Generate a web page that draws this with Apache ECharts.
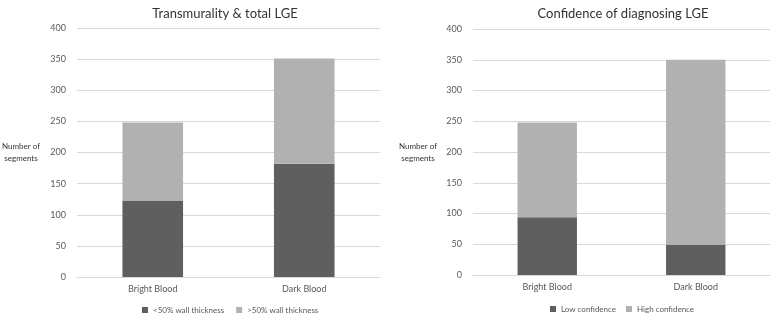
<!DOCTYPE html>
<html>
<head>
<meta charset="utf-8">
<script src="https://cdn.jsdelivr.net/npm/echarts@6/dist/echarts.min.js"></script>
<style>
  html, body { margin: 0; padding: 0; background: #fff; }
  #chart { width: 778px; height: 313px; }
</style>
</head>
<body>
<div id="chart"></div>
<script>
// categories and tick values
var categories = ['Bright Blood', 'Dark Blood'];
var yTicks = [0, 50, 100, 150, 200, 250, 300, 350, 400];

// left panel: transmurality
var lessThan50 = [122, 182];
var moreThan50 = [126, 169];

// right panel: confidence
var lowConfidence = [94, 49];
var highConfidence = [154, 301];

var darkGrey = '#5f5f5f';
var lightGrey = '#b1b1b1';
var textColor = '#595959';
var fontFam = 'Lato, "Open Sans", sans-serif';

var myChart = echarts.init(document.getElementById('chart'));

function makeX(idx) {
    return {
        type: 'category',
        gridIndex: idx,
        data: categories,
        axisTick: { show: false },
        axisLine: { lineStyle: { color: '#d9d9d9' } },
        axisLabel: { color: textColor, fontSize: 9, fontFamily: fontFam, margin: 8 }
    };
}
function makeY(idx, gap) {
    return {
        type: 'value',
        gridIndex: idx,
        min: yTicks[0],
        max: yTicks[yTicks.length - 1],
        interval: 50,
        name: 'Number of\nsegments',
        nameLocation: 'middle',
        nameRotate: 0,
        nameGap: gap,
        nameTextStyle: { color: '#333', fontSize: 8, fontFamily: fontFam, lineHeight: 12, align: 'center' },
        axisLine: { show: false },
        axisTick: { show: false },
        axisLabel: { color: textColor, fontSize: 9, fontFamily: fontFam, margin: 11 },
        splitLine: { lineStyle: { color: '#d9d9d9' } }
    };
}

var option = {
    animation: false,
    textStyle: { fontFamily: fontFam },
    title: [
        { text: 'Transmurality & total LGE', left: 220, top: 2, textAlign: 'center',
          textStyle: { fontSize: 13, fontWeight: 'normal', color: '#333', fontFamily: fontFam } },
        { text: 'Confidence of diagnosing LGE', left: 618, top: 2, textAlign: 'center',
          textStyle: { fontSize: 13, fontWeight: 'normal', color: '#333', fontFamily: fontFam } }
    ],
    legend: [
        { data: ['<50% wall thickness', '>50% wall thickness'], left: 137, top: 301,
          icon: 'rect', itemWidth: 6, itemHeight: 6, itemGap: 12,
          textStyle: { fontSize: 8, color: textColor, fontFamily: fontFam } },
        { data: ['Low confidence', 'High confidence'], left: 545, top: 300,
          icon: 'rect', itemWidth: 6, itemHeight: 6, itemGap: 10,
          textStyle: { fontSize: 8, color: textColor, fontFamily: fontFam } }
    ],
    grid: [
        { left: 76, right: 398, top: 28, bottom: 36 },
        { left: 473, right: 8, top: 29, bottom: 38 }
    ],
    xAxis: [makeX(0), makeX(1)],
    yAxis: [makeY(0, 56), makeY(1, 55)],
    series: [
        { name: '<50% wall thickness', type: 'bar', stack: 'a', xAxisIndex: 0, yAxisIndex: 0,
          data: lessThan50, barWidth: '40%', itemStyle: { color: darkGrey } },
        { name: '>50% wall thickness', type: 'bar', stack: 'a', xAxisIndex: 0, yAxisIndex: 0,
          data: moreThan50, barWidth: '40%', itemStyle: { color: lightGrey } },
        { name: 'Low confidence', type: 'bar', stack: 'b', xAxisIndex: 1, yAxisIndex: 1,
          data: lowConfidence, barWidth: '40%', itemStyle: { color: darkGrey } },
        { name: 'High confidence', type: 'bar', stack: 'b', xAxisIndex: 1, yAxisIndex: 1,
          data: highConfidence, barWidth: '40%', itemStyle: { color: lightGrey } }
    ]
};

myChart.setOption(option);
</script>
</body>
</html>
